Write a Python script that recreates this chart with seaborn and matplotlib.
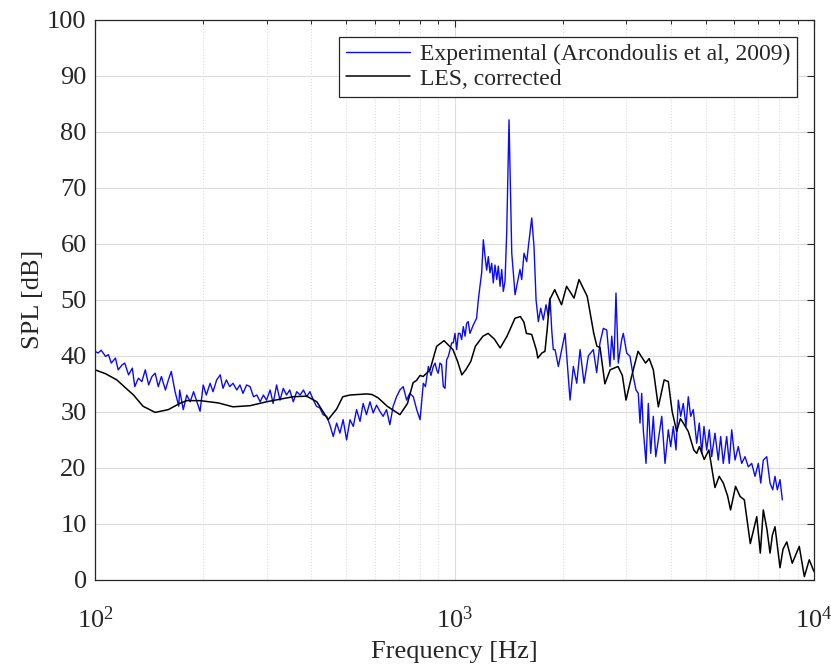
import numpy as np
import pandas as pd
import matplotlib
matplotlib.use("Agg")
import matplotlib.pyplot as plt
import seaborn as sns
from matplotlib.ticker import LogLocator, LogFormatterMathtext, NullFormatter

# ---------------- data ----------------
exp_freq = [100, 102, 104, 107, 109, 111, 114, 116, 119, 121, 124, 127, 129, 132, 135, 138, 141, 144,
            147, 150, 153, 157, 160, 163, 167, 171, 172, 176, 180, 184, 188, 192, 196, 200, 204, 209,
            213, 218, 223, 227, 232, 237, 242, 248, 253, 258, 264, 270, 276, 282, 288, 294, 300, 307,
            313, 320, 327, 334, 341, 348, 356, 364, 372, 380, 388, 396, 405, 413, 422, 431, 441, 450,
            460, 470, 480, 490, 501, 512, 523, 534, 546, 557, 569, 582, 594, 607, 620, 633, 647, 661,
            675, 690, 705, 720, 736, 751, 768, 785, 802, 819, 830, 846, 860, 873, 883, 892, 901, 911,
            921, 931, 941, 951, 961, 972, 982, 992, 1003, 1014, 1025, 1036, 1047, 1058, 1070, 1081,
            1092, 1104, 1128, 1152, 1165, 1177, 1190, 1203, 1216, 1229, 1242, 1255, 1269, 1282, 1296,
            1311, 1324, 1339, 1353, 1367, 1382, 1397, 1418, 1443, 1474, 1496, 1521, 1538, 1561, 1588,
            1605, 1640, 1664, 1686, 1711, 1737, 1766, 1797, 1824, 1844, 1864, 1883, 1904, 1945, 1987,
            2030, 2052, 2096, 2141, 2188, 2235, 2293, 2357, 2433, 2486, 2539, 2594, 2651, 2707, 2737,
            2778, 2813, 2855, 2918, 2948, 3013, 3077, 3143, 3198, 3245, 3281, 3317, 3351, 3410, 3460,
            3514, 3573, 3629, 3690, 3771, 3851, 3933, 3994, 4061, 4132, 4193, 4258, 4329, 4405, 4470,
            4539, 4615, 4717, 4796, 4871, 4943, 5029, 5113, 5192, 5303, 5417, 5500, 5593, 5716, 5812,
            5903, 6029, 6157, 6293, 6428, 6566, 6710, 6854, 7001, 7110, 7228, 7388, 7545, 7676, 7790,
            7906, 8044, 8164]
exp_spl = [40.8, 40.5, 41.0, 39.9, 40.2, 38.7, 39.6, 37.5, 38.4, 38.7, 36.6, 37.8, 34.5, 36.0, 35.4, 37.5,
           34.8, 36.3, 36.9, 34.5, 36.3, 33.9, 35.7, 37.2, 33.6, 31.0, 33.9, 30.4, 33.0, 31.8, 33.6, 31.8,
           30.1, 34.8, 33.0, 35.1, 33.6, 35.7, 36.6, 34.2, 35.7, 34.5, 35.1, 33.9, 34.8, 33.3, 34.8, 34.5,
           32.7, 33.0, 31.8, 33.0, 32.1, 33.9, 31.5, 34.8, 32.1, 34.2, 33.0, 33.9, 31.8, 33.6, 33.0, 33.9,
           32.7, 33.6, 32.1, 31.0, 30.7, 29.5, 29.2, 27.7, 25.6, 28.0, 26.2, 28.6, 25.0, 28.6, 27.4, 30.4,
           28.3, 31.5, 29.5, 31.8, 29.8, 31.2, 30.1, 29.2, 30.4, 27.7, 31.0, 32.7, 33.9, 34.5, 32.1, 33.3,
           32.7, 30.4, 28.6, 35.1, 34.5, 38.1, 36.5, 38.1, 38.7, 37.5, 36.9, 38.7, 38.4, 34.5, 34.2, 39.3,
           39.9, 41.1, 42.3, 42.3, 44.0, 41.1, 44.0, 44.0, 42.9, 45.2, 43.5, 45.8, 46.1, 44.0, 45.5, 46.7,
           50.0, 52.4, 54.8, 60.7, 57.7, 55.3, 57.7, 54.8, 56.5, 53.0, 56.2, 53.6, 56.0, 52.4, 55.4, 51.5,
           53.3, 61.9, 82.1, 58.3, 50.9, 53.0, 55.4, 53.6, 58.3, 56.8, 59.5, 64.6, 59.5, 50.0, 46.1, 48.5,
           46.4, 49.1, 47.0, 50.3, 44.6, 41.1, 41.1, 38.1, 41.1, 44.0, 40.0, 32.1, 38.1, 35.1, 41.1, 35.1,
           40.0, 41.1, 37.0, 42.3, 44.9, 44.6, 38.1, 43.5, 39.3, 51.2, 38.7, 42.9, 44.0, 40.5, 39.9, 36.3,
           33.9, 33.3, 28.0, 33.3, 26.8, 20.8, 31.5, 22.6, 29.2, 22.0, 25.0, 29.2, 20.8, 26.8, 23.8, 27.4,
           23.2, 32.1, 29.2, 31.5, 27.4, 32.7, 29.2, 30.4, 24.4, 28.0, 22.6, 27.4, 23.2, 26.8, 22.0, 26.2,
           21.4, 25.6, 20.8, 25.6, 20.8, 26.8, 21.4, 23.8, 20.8, 22.0, 20.2, 20.8, 18.5, 20.8, 17.3, 21.4,
           22.0, 17.3, 16.1, 18.5, 16.1, 17.9, 14.3]

les_freq = [100, 107, 115, 122, 128, 136, 147, 160, 172, 180, 196, 220, 242, 270, 300, 356, 388, 414,
            445, 470, 489, 512, 569, 589, 613, 650, 705, 740, 767, 784, 802, 818, 855, 892, 935, 990,
            1020, 1048, 1075, 1110, 1143, 1200, 1240, 1290, 1340, 1400, 1473, 1525, 1560, 1585, 1640,
            1690, 1705, 1750, 1785, 1810, 1840, 1900, 1985, 2050, 2150, 2220, 2340, 2440, 2490, 2540,
            2620, 2710, 2850, 2930, 3000, 3100, 3240, 3400, 3480, 3573, 3690, 3830, 3933, 4030, 4150,
            4250, 4329, 4470, 4630, 4717, 4800, 4950, 5100, 5303, 5450, 5593, 5750, 5860, 6050, 6230,
            6400, 6650, 6930, 7090, 7228, 7400, 7545, 7660, 7790, 8044, 8200, 8400, 8700, 9100, 9400,
            9700, 10000]
les_spl = [37.5, 36.8, 35.7, 34.2, 33.0, 31.0, 29.9, 30.4, 31.5, 32.0, 32.0, 31.6, 30.9, 31.1, 31.8,
           32.7, 32.8, 31.8, 28.6, 30.5, 32.7, 33.0, 33.2, 33.1, 32.5, 31.0, 29.5, 31.5, 35.2, 35.6, 36.5,
           36.3, 37.5, 41.7, 42.7, 41.1, 39.0, 36.6, 37.5, 39.0, 41.7, 43.5, 44.0, 43.0, 41.4, 43.5, 46.7,
           47.0, 46.0, 44.0, 43.8, 41.0, 39.6, 40.5, 40.8, 44.6, 50.0, 51.8, 49.1, 52.4, 50.3, 53.6, 50.6,
           44.0, 41.7, 41.5, 35.0, 37.5, 38.1, 36.5, 32.1, 36.0, 40.8, 38.7, 39.5, 37.5, 30.9, 35.7, 35.4,
           30.1, 26.5, 28.8, 28.0, 26.5, 23.2, 22.6, 23.8, 21.5, 23.2, 16.5, 18.5, 17.3, 15.0, 12.5, 16.7,
           14.9, 14.3, 6.5, 11.3, 4.8, 12.5, 9.0, 4.8, 8.0, 9.5, 2.2, 5.5, 6.8, 3.0, 6.0, 0.6, 3.6, 1.5]

exp_label = "Experimental (Arcondoulis et al, 2009)"
les_label = "LES, corrected"
y_ticks = list(range(0, 101, 10))

df_exp = pd.DataFrame({"freq": exp_freq, "spl": exp_spl})
df_les = pd.DataFrame({"freq": les_freq, "spl": les_spl})

# ---------------- style ----------------
sns.set_theme(style="white")
plt.rcParams["font.family"] = ["Liberation Serif", "DejaVu Serif"]
plt.rcParams["mathtext.fontset"] = "custom"
plt.rcParams["mathtext.rm"] = "Liberation Serif"
plt.rcParams["mathtext.it"] = "Liberation Serif:italic"

fig = plt.figure(figsize=(8.31, 6.66), dpi=100)
ax = fig.add_axes([95 / 831, 1 - 580 / 666, 719 / 831, 560.5 / 666])

sns.lineplot(data=df_exp, x="freq", y="spl", ax=ax, color="#0a0aff", linewidth=1.0,
             label=exp_label, estimator=None, sort=True)
sns.lineplot(data=df_les, x="freq", y="spl", ax=ax, color="black", linewidth=1.1,
             label=les_label, estimator=None, sort=True)

ax.set_xscale("log")
ax.set_xlim(100, 10000)
ax.set_ylim(0, 100)
ax.set_yticks(y_ticks)
ax.xaxis.set_major_locator(LogLocator(base=10))
ax.xaxis.set_major_formatter(LogFormatterMathtext())
ax.xaxis.set_minor_locator(LogLocator(base=10, subs=np.arange(2, 10)))
ax.xaxis.set_minor_formatter(NullFormatter())

ax.grid(True, which="major", axis="both", color="#dcdcdc", linewidth=0.8, linestyle="-")
ax.grid(True, which="minor", axis="x", color="#dcdcdc", linewidth=0.8, linestyle=":")
ax.set_axisbelow(True)

for s in ax.spines.values():
    s.set_color("#262626")
    s.set_linewidth(0.9)

ax.tick_params(axis="both", which="both", direction="in", top=True, right=True,
               color="#262626", labelsize=19, labelcolor="#262626")
ax.tick_params(axis="both", which="major", length=5, width=0.8)
ax.tick_params(axis="x", which="minor", length=3, width=0.7)
ax.tick_params(axis="x", which="major", pad=19)
ax.tick_params(axis="y", which="major", pad=6)

ax.set_xlabel("Frequency [Hz]", fontsize=19, color="#262626", labelpad=6)
ax.set_ylabel("SPL [dB]", fontsize=19, color="#262626", labelpad=2)

leg = ax.legend(loc="upper right", bbox_to_anchor=(0.9765, 0.9695), fontsize=17,
                frameon=True, fancybox=False, edgecolor="#262626", framealpha=1,
                handlelength=2.7, handletextpad=0.4, borderpad=0.3, labelspacing=0.12,
                borderaxespad=0)
leg.get_frame().set_linewidth(0.9)
for t in leg.get_texts():
    t.set_color("#262626")

fig.savefig("out.png", dpi=100)
